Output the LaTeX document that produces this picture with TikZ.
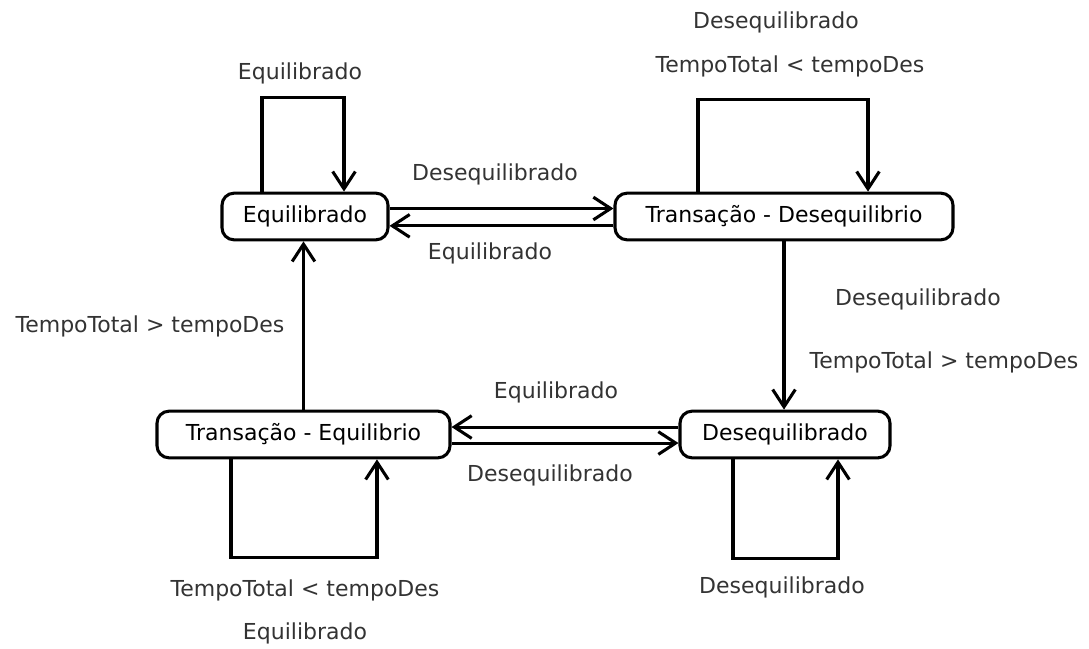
\documentclass[tikz,border=0pt]{standalone}
\usepackage{fontspec}
\setmainfont{DejaVu Sans}
\usetikzlibrary{arrows.meta}
\definecolor{lbl}{HTML}{333333}
\tikzset{
  state/.style={draw, line width=2.3pt, rounded corners=9pt, minimum height=35pt, inner sep=0pt, font=\fontsize{16.5}{19}\selectfont, text=black},
  conn/.style={line width=2.3pt, -{Straight Barb[length=13pt,width=17pt,line width=2.3pt]}},
  lab/.style={font=\fontsize{16.5}{19}\selectfont, text=lbl, inner sep=0pt}
}
\begin{document}
\begin{tikzpicture}[x=0.75pt,y=-0.75pt]
\useasboundingbox (0,0) rectangle (1089,649);
\node[state, minimum width=124.5pt] (eq) at (305,216.5) {Equilibrado};
\node[state, minimum width=253.5pt] (td) at (784,216.5) {Transação - Desequilibrio};
\node[state, minimum width=219.75pt] (te) at (303.5,434.5) {Transação - Equilibrio};
\node[state, minimum width=157.5pt] (ds) at (785,434.5) {Desequilibrado};

% Equilibrado self loop
\draw[conn] ([xshift=-32.25pt]eq.north) -- ++(0,-94) -| ([xshift=29.25pt]eq.north);
% eq <-> td
\draw[conn] ([yshift=6pt]eq.east) -- ([yshift=6pt]td.west);
\draw[conn] ([yshift=-7pt]td.west) -- ([yshift=-7pt]eq.east);
% td self loop
\draw[conn] ([xshift=-64.5pt]td.north) -- ++(0,-92) -| ([xshift=63pt]td.north);
% td -> ds
\draw[conn] (td.south) -- (td.south |- ds.north);
% te -> eq
\draw[conn] (te.north) -- (te.north |- eq.south);
% te <-> ds
\draw[conn] ([yshift=5.6pt]ds.west) -- ([yshift=5.6pt]te.east);
\draw[conn] ([yshift=-6.4pt]te.east) -- ([yshift=-6.4pt]ds.west);
% te self loop
\draw[conn] ([xshift=-54.4pt]te.south) -- ++(0,98) -| ([xshift=55.1pt]te.south);
% ds self loop
\draw[conn] ([xshift=-39pt]ds.south) -- ++(0,99) -| ([xshift=39.75pt]ds.south);

% labels
\node[lab] (l1) at (300,73) {Equilibrado};
\node[lab] (l2) at (495,174) {Desequilibrado};
\node[lab] (l3) at (490,253) {Equilibrado};
\node[lab] (l4) at (776,22) {Desequilibrado};
\node[lab] (l5) at (790,66) {TempoTotal < tempoDes};
\node[lab] (l6) at (918,299) {Desequilibrado};
\node[lab] (l7) at (944,362) {TempoTotal > tempoDes};
\node[lab] (l8) at (150,326) {TempoTotal > tempoDes};
\node[lab] (l9) at (556,392) {Equilibrado};
\node[lab] (l10) at (550,475) {Desequilibrado};
\node[lab] (l11) at (305,590) {TempoTotal < tempoDes};
\node[lab] (l12) at (305,633) {Equilibrado};
\node[lab] (l13) at (782,587) {Desequilibrado};
\end{tikzpicture}
\end{document}
